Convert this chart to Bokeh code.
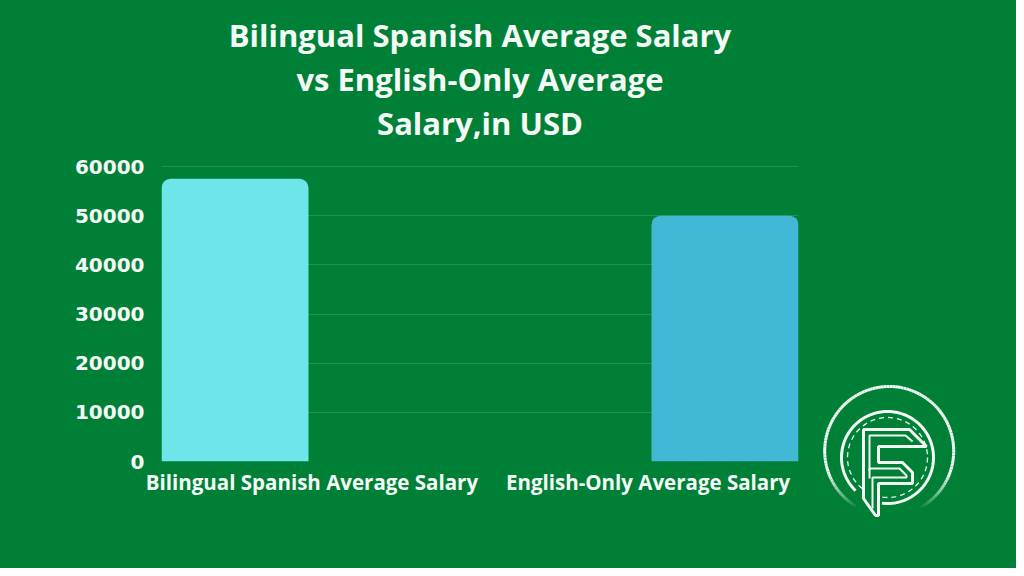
import numpy as np
from bokeh.plotting import figure
from bokeh.models import Range1d, FixedTicker, Title, ColumnDataSource
from bokeh.layouts import row
from bokeh.embed import file_html
from bokeh.resources import INLINE

# ---- data ----
categories = ["Bilingual Spanish Average Salary", "English-Only Average Salary"]
salaries = [57500, 50000]
bar_colors = ["#6DE6EA", "#41B8D6"]
y_ticks = [0, 10000, 20000, 30000, 40000, 50000, 60000]
title_lines = ["Bilingual Spanish Average Salary", "vs English-Only Average", "Salary,in USD"]

BG = "#008037"
TXT = "#F4FBF6"

# frame geometry (pixels); one pixel of headroom above the 60000 line
FL, FR, FT, FB = 161, 798, 165, 461
X0, X1 = -0.15, len(categories) - 1 + 0.15
Y0 = 0
Y1 = y_ticks[-1] * (FB - FT) / (FB - FT - 1)

idx = list(range(len(categories)))
src = ColumnDataSource(dict(x=idx, top=salaries, color=bar_colors))

p = figure(width=820, height=568, output_backend="svg", toolbar_location=None,
           title=None,
           x_range=Range1d(X0, X1), y_range=Range1d(Y0, Y1),
           min_border_left=FL, min_border_right=820 - FR,
           min_border_bottom=568 - FB, min_border_top=FT)
p.frame_align = False
p.background_fill_color = BG
p.border_fill_color = BG
p.outline_line_color = None

p.vbar(x="x", top="top", width=0.3, bottom=0, color="color", line_color=None,
       border_radius=(9, 9, 0, 0), source=src)

# title: spacer next to the frame, then the three lines (added bottom-up)
p.add_layout(Title(text=" ", text_font_size="1px", standoff=18.5), "above")
for line in reversed(title_lines):
    p.add_layout(Title(text=line, align="center",
                       text_font="Open Sans", text_font_size="31px",
                       text_font_style="bold", text_color=TXT,
                       standoff=0), "above")

# axes
p.xaxis.ticker = FixedTicker(ticks=[i + 0.157 * (1 - 2 * i) for i in idx])
p.xaxis.major_label_overrides = {i + 0.157 * (1 - 2 * i): c for i, c in zip(idx, categories)}
p.yaxis.ticker = FixedTicker(ticks=y_ticks)
for ax in (p.xaxis[0], p.yaxis[0]):
    ax.axis_line_color = None
    ax.major_tick_line_color = None
    ax.minor_tick_line_color = None
    ax.major_tick_out = 0
    ax.major_tick_in = 0
    ax.minor_tick_out = 0
    ax.major_label_text_color = TXT
    ax.major_label_text_font_style = "bold"
p.xaxis.major_label_text_font = "Open Sans"
p.xaxis.major_label_text_font_size = "20.5px"
p.xaxis.major_label_standoff = 6
p.yaxis.major_label_text_font = "DejaVu Sans"
p.yaxis.major_label_text_font_size = "20px"
p.yaxis.major_label_standoff = 17
p.xgrid.grid_line_color = None
p.ygrid.grid_line_color = "white"
p.ygrid.grid_line_alpha = 0.14
p.ygrid.grid_line_width = 1

# ---- logo panel (pixel coordinates of the picture) ----
q = figure(width=196, height=568, output_backend="svg", toolbar_location=None,
           x_range=Range1d(820, 1016), y_range=Range1d(568, 0),
           min_border=0)
q.frame_align = False
q.axis.visible = False
q.grid.visible = False
q.background_fill_color = BG
q.border_fill_color = BG
q.outline_line_color = None

W = "#F2FAF4"
# outer ring with faded ends
cx, cy, R = 888.7, 450.5, 64.5
ts = np.linspace(np.radians(121), np.radians(360 + 62), 120)
xs, ys, al = [], [], []
for a, b in zip(ts[:-1], ts[1:]):
    xs.append([cx + R * np.cos(a), cx + R * np.cos(b)])
    ys.append([cy + R * np.sin(a), cy + R * np.sin(b)])
    d = np.degrees((a + b) / 2)
    if d < 160:
        alpha = 0.05 + 0.95 * (d - 121) / 39
    elif d > 380:
        alpha = max(0.0, 1 - (d - 380) / 42)
    else:
        alpha = 1.0
    al.append(alpha)
q.multi_line(xs=xs, ys=ys, line_color=W, line_alpha=al, line_width=3)

# inner ring with gap at stem
icx, icy, ir = 887, 457, 46
tt = np.linspace(np.radians(134), np.radians(360 + 97), 160)
q.line(icx + ir * np.cos(tt), icy + ir * np.sin(tt), line_color=W, line_width=3)
# dashed ring
td = np.linspace(np.radians(0), np.radians(360), 200)
q.line(icx + 40 * np.cos(td), icy + 40 * np.sin(td), line_color=W, line_width=1.3,
       line_dash="5 4")
# letter mark
q.patch([863, 863, 909, 926, 878, 878, 902, 912, 912, 878, 878, 875, 863],
        [498, 429, 429, 446, 446, 462, 462, 472, 483, 483, 515, 515, 498],
        fill_color=BG, line_color=W, line_width=3)
q.multi_line([[869, 869, 905, 912], [869, 869, 899, 906, 906, 872, 872]],
             [[470, 435, 435, 441], [478, 468, 468, 475, 477, 477, 508]],
             line_color=W, line_width=2)

layout = row(p, q, styles={"background-color": BG})
open("out.html", "w").write(file_html(layout, INLINE))
